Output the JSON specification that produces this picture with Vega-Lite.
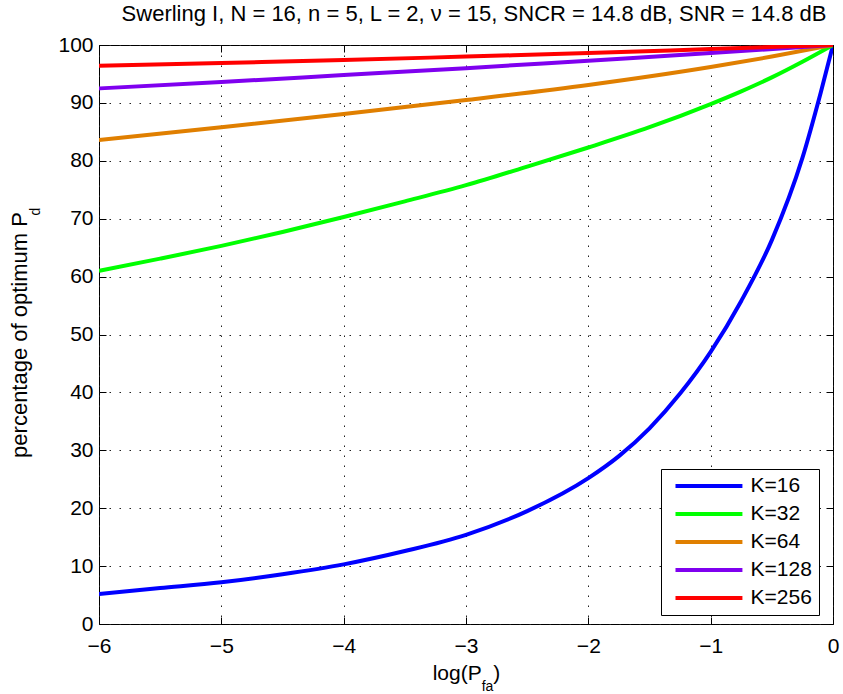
{
  "$schema": "https://vega.github.io/schema/vega-lite/v6.json",
  "width": 734,
  "height": 579,
  "autosize": {"type": "none"},
  "padding": {"left": 99, "top": 45, "right": 10, "bottom": 70},
  "background": "white",
  "title": {
    "text": "Swerling I, N = 16, n = 5, L = 2, ν = 15, SNCR = 14.8 dB, SNR = 14.8 dB",
    "fontSize": 22,
    "fontWeight": "normal",
    "font": "Liberation Sans",
    "color": "#000",
    "anchor": "middle",
    "dx": 8,
    "offset": 8
  },
  "data": {
    "values": [
      {"x": -6, "y": 5.2, "K": "K=16"},
      {"x": -5.5, "y": 6.2, "K": "K=16"},
      {"x": -5, "y": 7.2, "K": "K=16"},
      {"x": -4.5, "y": 8.6, "K": "K=16"},
      {"x": -4, "y": 10.3, "K": "K=16"},
      {"x": -3.5, "y": 12.6, "K": "K=16"},
      {"x": -3, "y": 15.4, "K": "K=16"},
      {"x": -2.5, "y": 19.5, "K": "K=16"},
      {"x": -2, "y": 25.2, "K": "K=16"},
      {"x": -1.75, "y": 29, "K": "K=16"},
      {"x": -1.5, "y": 33.8, "K": "K=16"},
      {"x": -1.25, "y": 39.8, "K": "K=16"},
      {"x": -1, "y": 47, "K": "K=16"},
      {"x": -0.75, "y": 55.8, "K": "K=16"},
      {"x": -0.5, "y": 66.3, "K": "K=16"},
      {"x": -0.25, "y": 80.5, "K": "K=16"},
      {"x": -0.1, "y": 91.8, "K": "K=16"},
      {"x": 0, "y": 100, "K": "K=16"},
      {"x": -6, "y": 61, "K": "K=32"},
      {"x": -5.5, "y": 63.1, "K": "K=32"},
      {"x": -5, "y": 65.3, "K": "K=32"},
      {"x": -4.5, "y": 67.7, "K": "K=32"},
      {"x": -4, "y": 70.3, "K": "K=32"},
      {"x": -3.5, "y": 73, "K": "K=32"},
      {"x": -3, "y": 75.8, "K": "K=32"},
      {"x": -2.5, "y": 79, "K": "K=32"},
      {"x": -2, "y": 82.3, "K": "K=32"},
      {"x": -1.5, "y": 85.8, "K": "K=32"},
      {"x": -1, "y": 89.8, "K": "K=32"},
      {"x": -0.75, "y": 92, "K": "K=32"},
      {"x": -0.5, "y": 94.4, "K": "K=32"},
      {"x": -0.25, "y": 97.1, "K": "K=32"},
      {"x": 0, "y": 100, "K": "K=32"},
      {"x": -6, "y": 83.6, "K": "K=64"},
      {"x": -5, "y": 85.8, "K": "K=64"},
      {"x": -4, "y": 88.1, "K": "K=64"},
      {"x": -3, "y": 90.5, "K": "K=64"},
      {"x": -2, "y": 93.1, "K": "K=64"},
      {"x": -1, "y": 96.2, "K": "K=64"},
      {"x": -0.5, "y": 98, "K": "K=64"},
      {"x": 0, "y": 100, "K": "K=64"},
      {"x": -6, "y": 92.5, "K": "K=128"},
      {"x": -5, "y": 93.6, "K": "K=128"},
      {"x": -4, "y": 94.8, "K": "K=128"},
      {"x": -3, "y": 96, "K": "K=128"},
      {"x": -2, "y": 97.3, "K": "K=128"},
      {"x": -1, "y": 98.6, "K": "K=128"},
      {"x": 0, "y": 100, "K": "K=128"},
      {"x": -6, "y": 96.4, "K": "K=256"},
      {"x": -5, "y": 96.9, "K": "K=256"},
      {"x": -4, "y": 97.4, "K": "K=256"},
      {"x": -3, "y": 98, "K": "K=256"},
      {"x": -2, "y": 98.6, "K": "K=256"},
      {"x": -1, "y": 99.3, "K": "K=256"},
      {"x": 0, "y": 100, "K": "K=256"}
    ]
  },
  "layer": [
    {
      "mark": {"type": "line", "strokeWidth": 4, "clip": true, "interpolate": "monotone"},
      "encoding": {
        "x": {
          "field": "x", "type": "quantitative",
          "scale": {"domain": [-6, 0], "nice": false, "zero": false},
          "axis": {
            "orient": "bottom",
            "values": [-6, -5, -4, -3, -2, -1, 0],
            "format": "d",
            "grid": true,
            "gridDash": [1.5, 8.5],
            "gridColor": "#222",
            "gridWidth": 1,
            "domain": false,
            "tickSize": -7,
            "tickColor": "#000",
            "labelPadding": 18,
            "labelFontSize": 21,
            "labelFont": "Liberation Sans",
            "labelColor": "#000",
            "labelFlush": false,
            "title": "log(P\u00a0\u00a0)",
            "titleFontSize": 21,
            "titleFont": "Liberation Sans",
            "titleFontWeight": "normal",
            "titleColor": "#000",
            "titlePadding": 6
          }
        },
        "y": {
          "field": "y", "type": "quantitative",
          "scale": {"domain": [0, 100], "nice": false},
          "axis": {
            "orient": "left",
            "values": [0, 10, 20, 30, 40, 50, 60, 70, 80, 90, 100],
            "grid": true,
            "gridDash": [1.5, 8.5],
            "gridColor": "#222",
            "gridWidth": 1,
            "domain": false,
            "tickSize": -7,
            "tickColor": "#000",
            "labelPadding": 13,
            "labelFontSize": 21,
            "labelFont": "Liberation Sans",
            "labelColor": "#000",
            "labelFlush": false,
            "title": "percentage of optimum P\u00a0",
            "titleFontSize": 22,
            "titleFont": "Liberation Sans",
            "titleFontWeight": "normal",
            "titleColor": "#000",
            "titlePadding": 26
          }
        },
        "color": {
          "field": "K", "type": "nominal",
          "scale": {
            "domain": ["K=16", "K=32", "K=64", "K=128", "K=256"],
            "range": ["#0000ff", "#00ff00", "#e07f00", "#7f00ef", "#ff0000"]
          },
          "legend": {
            "title": null,
            "orient": "none",
            "legendX": 562,
            "legendY": 424,
            "symbolType": "M-0.6,0H15.4",
            "symbolSize": 70,
            "symbolStrokeWidth": 4,
            "labelFontSize": 21,
            "labelFont": "Liberation Sans",
            "labelColor": "#000",
            "labelOffset": 62,
            "rowPadding": 6,
            "padding": 6.5,
            "strokeColor": "#000",
            "fillColor": "#fff"
          }
        }
      }
    },
    {
      "mark": {"type": "point", "opacity": 0},
      "encoding": {
        "x": {
          "field": "x", "type": "quantitative",
          "scale": {"domain": [-6, 0], "nice": false, "zero": false},
          "axis": {
            "orient": "top",
            "values": [-6, -5, -4, -3, -2, -1, 0],
            "labels": false,
            "grid": false,
            "domain": false,
            "tickSize": -7,
            "tickColor": "#000",
            "title": "fa",
            "titleFontSize": 14,
            "titleFont": "Liberation Sans",
            "titleFontWeight": "normal",
            "titleColor": "#000",
            "titleX": 388,
            "titleY": 645,
            "titleAlign": "center",
            "titleBaseline": "alphabetic"
          }
        },
        "y": {
          "field": "y", "type": "quantitative",
          "scale": {"domain": [0, 100], "nice": false},
          "axis": {
            "orient": "right",
            "values": [0, 10, 20, 30, 40, 50, 60, 70, 80, 90, 100],
            "labels": false,
            "grid": false,
            "domain": false,
            "tickSize": -7,
            "tickColor": "#000",
            "title": "d",
            "titleFontSize": 14,
            "titleFont": "Liberation Sans",
            "titleFontWeight": "normal",
            "titleColor": "#000",
            "titleAngle": -90,
            "titleX": -794,
            "titleY": 166,
            "titleAlign": "center",
            "titleBaseline": "alphabetic"
          }
        }
      }
    }
  ],
  "resolve": {"axis": {"x": "independent", "y": "independent"}},
  "config": {
    "view": {"stroke": "#000", "strokeWidth": 1},
    "font": "Liberation Sans"
  }
}
